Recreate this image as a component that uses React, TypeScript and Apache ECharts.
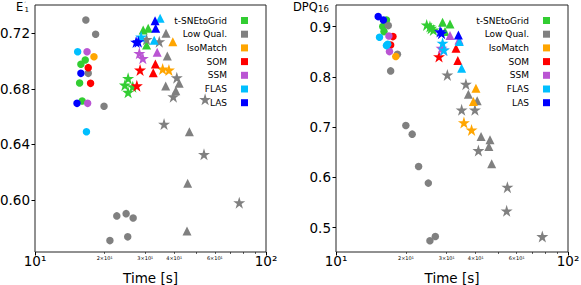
import React, { useEffect, useRef } from "react";
import * as echarts from "echarts";

const FONT = "DejaVu Sans";
const METHODS = ["t-SNEtoGrid", "Low Qual.", "IsoMatch", "SOM", "SSM", "FLAS", "LAS"];
const COLORS = ["#32cd32", "#808080", "#ffa500", "#ff0000", "#ba55d3", "#00bfff", "#0000ff"];

// [time (s), value, marker]  marker: o = circle, ^ = triangle, * = star
// Left panel: E'1
const e1Tsne = [[16.5, 0.7008, "o"], [15.8, 0.6977, "o"], [15.6, 0.6842, "o"], [16.0, 0.6713, "o"],
  [30.9, 0.7236, "^"], [29.4, 0.7224, "^"], [30.4, 0.7116, "^"],
  [25.3, 0.6876, "*"], [24.5, 0.6828, "*"], [25.3, 0.6776, "*"], [26.5, 0.6816, "*"]];
const e1Low = [[16.6, 0.7296, "o"], [18.3, 0.7193, "o"], [17.0, 0.6912, "o"], [19.9, 0.6675, "o"],
  [22.6, 0.5886, "o"], [24.8, 0.5902, "o"], [26.6, 0.5871, "o"], [21.1, 0.5708, "o"], [25.2, 0.5735, "o"],
  [36.9, 0.72, "^"], [37.4, 0.7037, "^"], [42.1, 0.684, "^"], [36.8, 0.6821, "^"], [40.7, 0.6787, "^"],
  [46.6, 0.6492, "^"], [45.8, 0.6121, "^"], [45.5, 0.5778, "^"],
  [30.4, 0.7157, "*"], [34.5, 0.714, "*"], [41.1, 0.6881, "*"], [39.7, 0.6744, "*"], [54.5, 0.6725, "*"],
  [36.2, 0.6547, "*"], [53.9, 0.6329, "*"], [76.6, 0.5981, "*"]];
const e1Iso = [[18.0, 0.7032, "o"], [39.5, 0.714, "^"], [35.7, 0.6943, "*"], [38.0, 0.6936, "*"]];
const e1Som = [[17.0, 0.6953, "o"], [17.4, 0.684, "o"], [33.2, 0.6979, "^"], [32.5, 0.6917, "^"],
  [28.5, 0.6936, "*"], [27.6, 0.6823, "*"]];
const e1Ssm = [[16.8, 0.7068, "o"], [16.9, 0.6696, "o"], [33.8, 0.7063, "^"], [28.3, 0.7056, "*"], [29.3, 0.702, "*"]];
const e1Flas = [[15.3, 0.7068, "o"], [16.7, 0.6492, "o"], [34.8, 0.7308, "^"], [32.8, 0.715, "^"], [28.8, 0.7174, "*"]];
const e1Las = [[15.8, 0.6912, "o"], [15.2, 0.6696, "o"], [33.1, 0.7291, "^"], [33.3, 0.7236, "^"],
  [28.0, 0.714, "*"], [27.4, 0.7137, "*"]];

// Right panel: DPQ16
const dpqTsne = [[16.5, 0.9133, "o"], [15.9, 0.9, "o"], [16.1, 0.8901, "o"],
  [28.8, 0.9087, "^"], [31.0, 0.9054, "^"], [29.5, 0.8901, "^"],
  [24.6, 0.9034, "*"], [25.7, 0.8968, "*"], [25.4, 0.9, "*"], [26.3, 0.8934, "*"]];
const dpqLow = [[16.8, 0.902, "o"], [18.4, 0.8451, "o"], [17.2, 0.8119, "o"], [20.0, 0.7032, "o"],
  [21.3, 0.6861, "o"], [22.7, 0.6217, "o"], [25.0, 0.5887, "o"], [25.4, 0.474, "o"], [26.8, 0.4825, "o"],
  [37.2, 0.7656, "^"], [40.6, 0.7523, "^"], [42.2, 0.6813, "^"], [46.1, 0.6748, "^"], [45.6, 0.6614, "^"], [46.9, 0.627, "^"],
  [30.2, 0.804, "*"], [36.3, 0.7855, "*"], [34.8, 0.7344, "*"], [39.7, 0.7344, "*"], [41.1, 0.6535, "*"],
  [54.8, 0.5807, "*"], [54.4, 0.5336, "*"], [77.5, 0.4825, "*"]];
const dpqIso = [[18.1, 0.8404, "o"], [40.1, 0.7775, "^"], [39.1, 0.7509, "^"], [35.6, 0.7091, "*"], [38.4, 0.6946, "*"]];
const dpqSom = [[17.6, 0.8801, "o"], [17.2, 0.8636, "o"], [32.9, 0.8571, "^"], [33.5, 0.8324, "^"], [27.8, 0.8404, "*"]];
const dpqSsm = [[16.9, 0.8815, "o"], [17.0, 0.8503, "o"], [31.0, 0.8821, "^"], [33.9, 0.8736, "^"],
  [28.5, 0.8571, "*"], [29.0, 0.8537, "*"]];
const dpqFlas = [[15.4, 0.8789, "o"], [16.7, 0.865, "o"], [16.5, 0.8622, "o"], [34.0, 0.8702, "^"], [34.8, 0.8173, "^"],
  [28.8, 0.867, "*"], [29.2, 0.8537, "*"]];
const dpqLas = [[15.2, 0.9199, "o"], [16.0, 0.9133, "o"], [33.7, 0.8835, "^"], [28.1, 0.8901, "*"], [28.5, 0.8869, "*"]];

const E1_SETS = [e1Tsne, e1Low, e1Iso, e1Som, e1Ssm, e1Flas, e1Las];
const DPQ_SETS = [dpqTsne, dpqLow, dpqIso, dpqSom, dpqSsm, dpqFlas, dpqLas];

const E1_TICKS = [0.6, 0.64, 0.68, 0.72];
const DPQ_TICKS = [0.5, 0.6, 0.7, 0.8, 0.9];
const X_MAJOR = [10, 100];
const X_MINOR_LABELS = [20, 30, 40, 60];
const X_MINOR_TICKS = [20, 30, 40, 50, 60, 70, 80, 90];

const STAR = "path://M50,0 L61.2,34.5 L97.6,34.5 L68.2,55.9 L79.4,90.5 L50,69.1 L20.6,90.5 L31.8,55.9 L2.4,34.5 L38.8,34.5 Z";
const SYM: Record<string, string> = { o: "circle", "^": "triangle", "*": STAR };
const SIZE: Record<string, number> = { o: 7.5, "^": 9, "*": 12 };

const GRIDS = [
  { left: 35, right: 315, top: 5, bottom: 33 },
  { left: 336, right: 13, top: 5, bottom: 33 },
];

function xMajor(i: number) {
  return {
    gridIndex: i,
    type: "log",
    logBase: 10,
    min: 10,
    max: 100,
    name: "Time [s]",
    nameLocation: "middle",
    nameGap: 19,
    nameMoveOverlap: false,
    nameTextStyle: { fontFamily: FONT, fontSize: 13.5, color: "#000" },
    axisLine: { show: false },
    axisTick: { show: true, length: 3.5, customValues: X_MAJOR, lineStyle: { color: "#000" } },
    minorTick: { show: false },
    splitLine: { show: false },
    axisLabel: {
      customValues: X_MAJOR,
      margin: 2,
      color: "#000",
      fontFamily: FONT,
      fontSize: 13.5,
      formatter: (v: number) => (Math.round(v) === 10 ? "10¹" : "10²"),
    },
  };
}

function xMinor(i: number) {
  return {
    gridIndex: i,
    type: "log",
    logBase: 10,
    min: 10,
    max: 100,
    position: "bottom",
    axisLine: { show: false },
    axisTick: { show: true, length: 2, customValues: X_MINOR_TICKS, lineStyle: { color: "#000", width: 0.6 } },
    splitLine: { show: false },
    axisLabel: {
      customValues: X_MINOR_LABELS,
      margin: 3,
      color: "#000",
      fontFamily: FONT,
      fontSize: 5,
      formatter: (v: number) => `${Math.round(v / 10)}×10¹`,
    },
  };
}

function yAxis(i: number, min: number, max: number, ticks: number[], digits: number) {
  return {
    gridIndex: i,
    type: "value",
    min,
    max,
    axisLine: { show: false },
    axisTick: { show: true, length: 3.5, customValues: ticks, lineStyle: { color: "#000" } },
    splitLine: { show: false },
    axisLabel: {
      customValues: ticks,
      margin: 5,
      fontFamily: FONT,
      fontSize: 13.5,
      color: "#000",
      formatter: (v: number) => v.toFixed(digits),
    },
  };
}

function buildSeries() {
  const out: any[] = [];
  [E1_SETS, DPQ_SETS].forEach((sets, p) => {
    sets.forEach((arr, i) => {
      out.push({
        type: "scatter",
        name: METHODS[i],
        xAxisIndex: p,
        yAxisIndex: p,
        itemStyle: { color: COLORS[i], opacity: 1 },
        data: arr.map((d: any[]) => ({
          value: [d[0], d[1]],
          symbol: SYM[d[2]],
          symbolSize: SIZE[d[2]],
        })),
      });
    });
  });
  return out;
}

function legend(right: number) {
  return {
    data: METHODS.map((n) => ({ name: n, icon: "rect" })),
    orient: "vertical",
    align: "right",
    right,
    top: 11,
    itemWidth: 7,
    itemHeight: 7,
    itemGap: 4.7,
    selectedMode: false,
    textStyle: { fontFamily: FONT, fontSize: 9, color: "#000", padding: [0, 9, 0, 0] },
  };
}

export default function App() {
  const ref = useRef<HTMLDivElement>(null);
  useEffect(() => {
    document.body.style.margin = "0";
    const chart = echarts.init(ref.current!, null, { renderer: "svg" });
    chart.setOption({
      animation: false,
      backgroundColor: "#fff",
      textStyle: { fontFamily: FONT },
      grid: GRIDS.map((g) => ({
        ...g,
        show: true,
        borderColor: "#222",
        borderWidth: 1,
        containLabel: false,
        outerBoundsMode: "none",
      })),
      xAxis: [xMajor(0), xMajor(1), xMinor(0), xMinor(1)],
      yAxis: [
        yAxis(0, 0.5626, 0.7404, E1_TICKS, 2),
        yAxis(1, 0.4517, 0.943, DPQ_TICKS, 1),
      ],
      legend: [legend(328), legend(26)],
      graphic: [
        { type: "text", left: 16, top: 1, style: { text: "E", fontFamily: FONT, fontSize: 11.5, fill: "#000" } },
        { type: "text", left: 24.5, top: 0, style: { text: "′", fontFamily: FONT, fontSize: 6, fill: "#000" } },
        { type: "text", left: 24.5, top: 6.5, style: { text: "1", fontFamily: FONT, fontSize: 7, fill: "#000" } },
        { type: "text", left: 293, top: 0.5, style: { text: "DPQ", fontFamily: FONT, fontSize: 11.5, fill: "#000" } },
        { type: "text", left: 318, top: 4, style: { text: "16", fontFamily: FONT, fontSize: 8.5, fill: "#000" } },
      ],
      series: buildSeries(),
    });
    return () => chart.dispose();
  }, []);
  return <div ref={ref} style={{ position: "fixed", left: 0, top: 0, width: 581, height: 285 }} />;
}
